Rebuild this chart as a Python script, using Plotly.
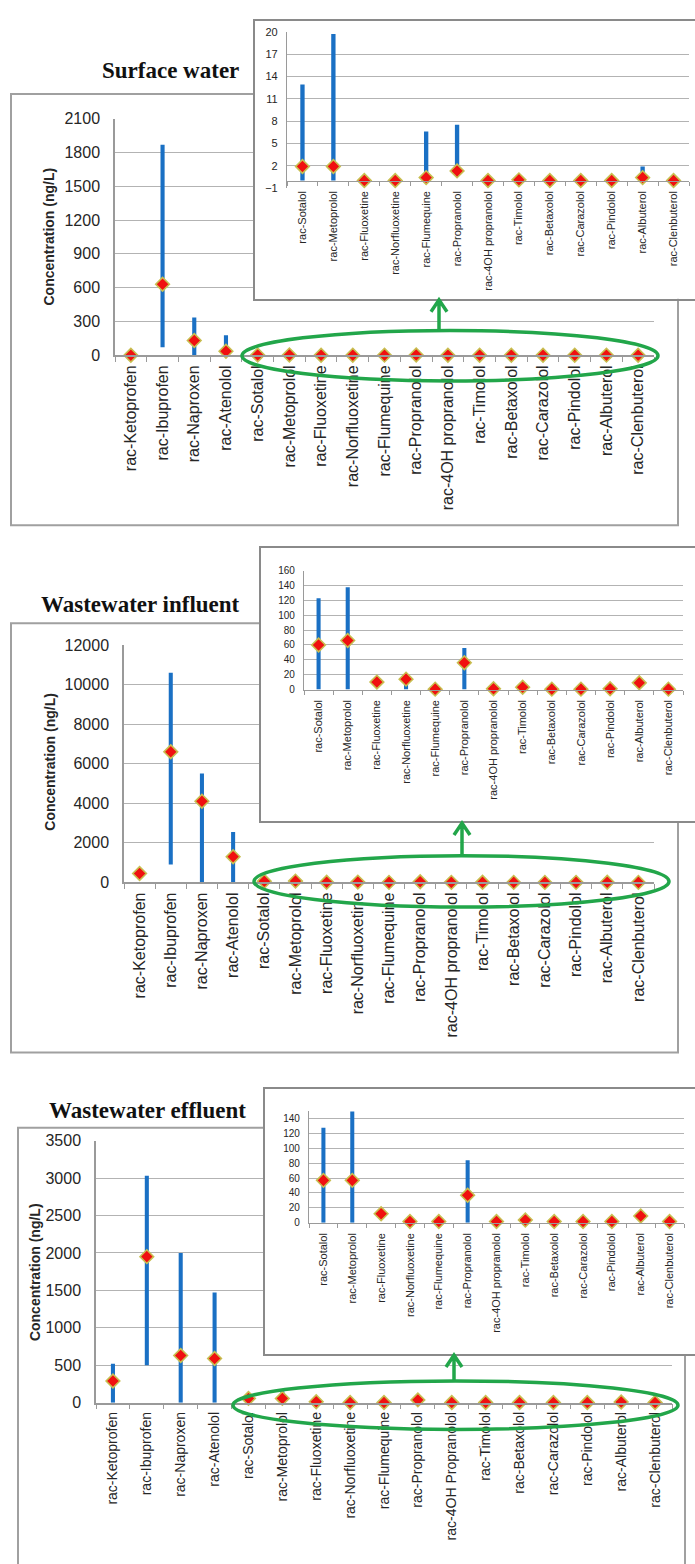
import plotly.graph_objects as go

W, H = 695, 1564

# ---------------------------------------------------------------- data
compounds = ["rac-Ketoprofen", "rac-Ibuprofen", "rac-Naproxen", "rac-Atenolol",
             "rac-Sotalol", "rac-Metoprolol", "rac-Fluoxetine", "rac-Norfluoxetine",
             "rac-Flumequine", "rac-Propranolol", "rac-4OH propranolol", "rac-Timolol",
             "rac-Betaxolol", "rac-Carazolol", "rac-Pindolol", "rac-Albuterol",
             "rac-Clenbuterol"]
effluent_compounds = ["rac-Ketoprofen", "rac-Ibuprofen", "rac-Naproxen", "rac-Atenolol",
                      "rac-Sotalol", "rac-Metoprolol", "rac-Fluoxetine", "rac-Norfluoxetine",
                      "rac-Flumequine", "rac-Propranolol", "rac-4OH Propranolol", "rac-Timolol",
                      "rac-Betaxolol", "rac-Carazolol", "rac-Pindolol", "rac-Albuterol",
                      "rac-Clenbuterol"]
inset_compounds = compounds[4:]

# Surface water (ng/L): range (min-max) and central value
surface_min = [0, 70, 0, 0, 0, 0, 0, 0, 0, 1.0, 0, 0, 0, 0, 0, 0, 0]
surface_max = [0, 1870, 335, 176, 12.9, 19.7, 0, 0, 6.6, 7.5, 0, 0, 0, 0, 0, 1.9, 0]
surface_mid = [0, 630, 130, 35, 1.9, 1.9, 0, 0, 0.4, 1.3, 0, 0.1, 0, 0, 0, 0.4, 0]

# Wastewater influent (ng/L)
influent_min = [450, 900, 0, 0, 0, 0, 11, 0, 1, 0, 1, 3, 1, 1, 1, 10, 1]
influent_max = [450, 10600, 5500, 2550, 123, 138, 11, 15, 1, 56, 1, 3, 1, 1, 1, 10, 1]
influent_mid = [450, 6600, 4100, 1300, 60, 66, 10, 14, 0.5, 36, 1, 3, 0.5, 0.5, 1, 9, 0.5]

# Wastewater effluent (ng/L)
effluent_min = [0, 500, 0, 0, 0, 0, 11, 1, 1, 0, 1, 3, 1, 1, 1, 8, 1]
effluent_max = [520, 3030, 2000, 1470, 128, 151, 11, 1, 1, 84, 1, 3, 1, 1, 1, 8, 1]
effluent_mid = [290, 1950, 630, 590, 57, 57, 12, 1.5, 1.5, 37, 1.5, 3.5, 1.5, 1.5, 1.5, 9, 1.5]

panel_titles = ["Surface water", "Wastewater influent", "Wastewater effluent"]
y_title = "Concentration (ng/L)"

main_ranges = [(0, 2100, 300, 0), (0, 12000, 2000, 0), (0, 3500, 500, 0)]
inset_ranges = [(-1, 20, 3, -1), (0, 160, 20, 0), (0, 150, 20, 0)]

# ---------------------------------------------------------------- geometry (pixels)
def fx(px):
    return px / W


def fy(py):
    return 1 - py / H


panels = [
    dict(series=(surface_min, surface_max, surface_mid), labels=compounds,
         title_xy=(170, 63), ytitle_xy=(49, 231), box=(11, 87, 678, 523),
         main_x=(115, 654), main_y=(112, 351), xfont=16,
         bg=(255, 13, 695, 294), inset_x=(287, 689), inset_y=(24, 182), ifont=11,
         ellipse=(242, 326, 658, 377), arrow=(439, 295, 326), bar_w=0.13),
    dict(series=(influent_min, influent_max, influent_mid), labels=compounds,
         title_xy=(140, 603), ytitle_xy=(50, 762), box=(11, 622, 678, 1056),
         main_x=(124, 654), main_y=(644, 884), xfont=16,
         bg=(261, 546, 695, 822), inset_x=(304, 683), inset_y=(569, 689), ifont=10,
         ellipse=(254, 857, 669, 909), arrow=(462, 824, 857), bar_w=0.13),
    dict(series=(effluent_min, effluent_max, effluent_mid), labels=effluent_compounds,
         title_xy=(147, 1115), ytitle_xy=(35, 1278), box=(18, 1132, 685, 1580),
         main_x=(96, 672), main_y=(1145, 1410), xfont=14,
         bg=(265, 1093, 695, 1361), inset_x=(309, 684), inset_y=(1115.5, 1228), ifont=10,
         ellipse=(233, 1388, 678, 1437), arrow=(454, 1362, 1388), bar_w=0.12),
]

BLUE = "rgb(26,112,196)"
RED = "rgb(240,16,16)"
RIM = "rgb(200,190,80)"
GREEN = "rgb(34,166,74)"
GRID = "#b3b3b3"
AXIS = "#9a9a9a"
TXT = "#262626"
SANS = "Liberation Sans, Arial, sans-serif"
SERIF = "Liberation Serif, Times New Roman, serif"

fig = go.Figure()
layout = dict(width=W, height=H, margin=dict(l=0, r=0, t=0, b=0),
              paper_bgcolor="white", plot_bgcolor="white", showlegend=False,
              shapes=[], annotations=[])


def add_range_traces(x, lo, hi, mid, ax, width):
    fig.add_trace(go.Bar(x=x, y=[h - l for l, h in zip(lo, hi)], base=lo, width=width,
                         marker=dict(color=BLUE, line=dict(width=0)),
                         xaxis="x" + ax, yaxis="y" + ax, cliponaxis=False,
                         hoverinfo="skip"))
    fig.add_trace(go.Scatter(x=x, y=mid, mode="markers",
                             marker=dict(symbol="diamond", size=10.5, color=RED,
                                         line=dict(color=RIM, width=1.6)),
                             xaxis="x" + ax, yaxis="y" + ax, cliponaxis=False,
                             hoverinfo="skip"))


for p, spec in enumerate(panels):
    lo, hi, mid = spec["series"]
    n_main, n_bg, n_in = 3 * p + 1, 3 * p + 2, 3 * p + 3
    a_main = "" if n_main == 1 else str(n_main)
    a_bg, a_in = str(n_bg), str(n_in)

    # main chart: all compounds
    add_range_traces(spec["labels"], lo, hi, mid, a_main, spec["bar_w"])
    ymin, ymax, dt, t0 = main_ranges[p]
    layout["xaxis" + a_main] = dict(
        type="category", domain=[fx(spec["main_x"][0]), fx(spec["main_x"][1])],
        anchor="y" + a_main, range=[-0.5, len(spec["labels"]) - 0.5],
        showgrid=False, zeroline=False, showline=True, linecolor=AXIS, linewidth=1.5,
        ticks="outside", tickson="boundaries", ticklen=5, tickcolor=AXIS,
        tickangle=-90, tickfont=dict(family=SANS, size=spec["xfont"], color=TXT),
        ticklabelstandoff=2, fixedrange=True)
    layout["yaxis" + a_main] = dict(
        domain=[fy(spec["main_y"][1]), fy(spec["main_y"][0])], anchor="x" + a_main,
        range=[ymin, ymax], tick0=t0, dtick=dt, tickformat="d", showgrid=True,
        gridcolor=GRID, gridwidth=1, zeroline=False, showline=True, linecolor=AXIS,
        linewidth=1.5, ticks="", tickfont=dict(family=SANS, size=16, color=TXT),
        ticklabelstandoff=10, fixedrange=True)

    # white card behind the zoomed chart
    fig.add_trace(go.Scatter(x=[None], y=[None], mode="markers",
                             xaxis="x" + a_bg, yaxis="y" + a_bg, hoverinfo="skip"))
    bx0, by0, bx1, by1 = spec["bg"]
    layout["xaxis" + a_bg] = dict(
        domain=[fx(bx0), fx(bx1)], anchor="y" + a_bg, range=[0, 1], visible=True,
        showgrid=False, zeroline=False, showticklabels=False, ticks="",
        showline=True, mirror=True, linecolor="#8a8a8a", linewidth=2, fixedrange=True)
    layout["yaxis" + a_bg] = dict(
        domain=[fy(by1), fy(by0)], anchor="x" + a_bg, range=[0, 1],
        showgrid=False, zeroline=False, showticklabels=False, ticks="",
        showline=True, mirror=False, linecolor="#8a8a8a", linewidth=2, fixedrange=True)

    # zoomed chart: low-concentration compounds
    add_range_traces(inset_compounds, lo[4:], hi[4:], mid[4:], a_in, 0.14)
    imin, imax, idt, it0 = inset_ranges[p]
    iy_dom = [fy(spec["inset_y"][1]), fy(spec["inset_y"][0])]
    xin = dict(
        type="category", domain=[fx(spec["inset_x"][0]), fx(spec["inset_x"][1])],
        range=[-0.5, len(inset_compounds) - 0.5], showgrid=False, zeroline=False,
        showline=True, linecolor=AXIS, linewidth=1.2, ticks="outside",
        tickson="boundaries", ticklen=4, tickcolor=AXIS, tickangle=-90,
        tickfont=dict(family=SANS, size=11, color=TXT), fixedrange=True)
    if imin < 0:
        zero_pos = iy_dom[0] + (0 - imin) / (imax - imin) * (iy_dom[1] - iy_dom[0])
        xin.update(anchor="free", position=zero_pos, ticklabelstandoff=5)
    else:
        xin.update(anchor="y" + a_in, ticklabelstandoff=5)
    layout["xaxis" + a_in] = xin
    layout["yaxis" + a_in] = dict(
        domain=iy_dom, anchor="x" + a_in, range=[imin, imax], tick0=it0, dtick=idt,
        tickformat="d", showgrid=True, gridcolor=GRID, gridwidth=1, zeroline=False,
        showline=True, linecolor=AXIS, linewidth=1.2, ticks="",
        tickfont=dict(family=SANS, size=spec["ifont"], color=TXT),
        ticklabelstandoff=6, fixedrange=True)

    # outer frame of the panel
    ox0, oy0, ox1, oy1 = spec["box"]
    layout["shapes"].append(dict(type="rect", xref="paper", yref="paper", layer="below",
                                 x0=fx(ox0), x1=fx(ox1), y0=fy(oy1), y1=fy(oy0),
                                 line=dict(color="#a0a0a0", width=2)))

    # green ellipse around the low-concentration group and arrow to the zoom
    ex0, ey0, ex1, ey1 = spec["ellipse"]
    layout["shapes"].append(dict(type="circle", xref="paper", yref="paper", layer="above",
                                 x0=fx(ex0), x1=fx(ex1), y0=fy(ey1), y1=fy(ey0),
                                 line=dict(color=GREEN, width=3.5)))
    ax_, at, ab = spec["arrow"]
    path = (f"M {fx(ax_)},{fy(ab)} L {fx(ax_)},{fy(at + 1)} "
            f"M {fx(ax_ - 8)},{fy(at + 12)} L {fx(ax_)},{fy(at)} L {fx(ax_ + 8)},{fy(at + 12)}")
    layout["shapes"].append(dict(type="path", xref="paper", yref="paper", layer="above",
                                 path=path, line=dict(color=GREEN, width=3.5)))

    # panel title and y-axis title
    tx, ty = spec["title_xy"]
    layout["annotations"].append(dict(
        text="<b>" + panel_titles[p] + "</b>", xref="paper", yref="paper",
        x=fx(tx), y=fy(ty), xanchor="center", yanchor="middle", showarrow=False,
        font=dict(family=SERIF, size=23, color="#111111")))
    yx, yy = spec["ytitle_xy"]
    layout["annotations"].append(dict(
        text="<b>" + y_title + "</b>", xref="paper", yref="paper",
        x=fx(yx), y=fy(yy), xanchor="center", yanchor="middle", showarrow=False,
        textangle=-90, font=dict(family=SANS, size=14, color=TXT)))

fig.update_layout(**layout)
fig.write_html("out.html")
